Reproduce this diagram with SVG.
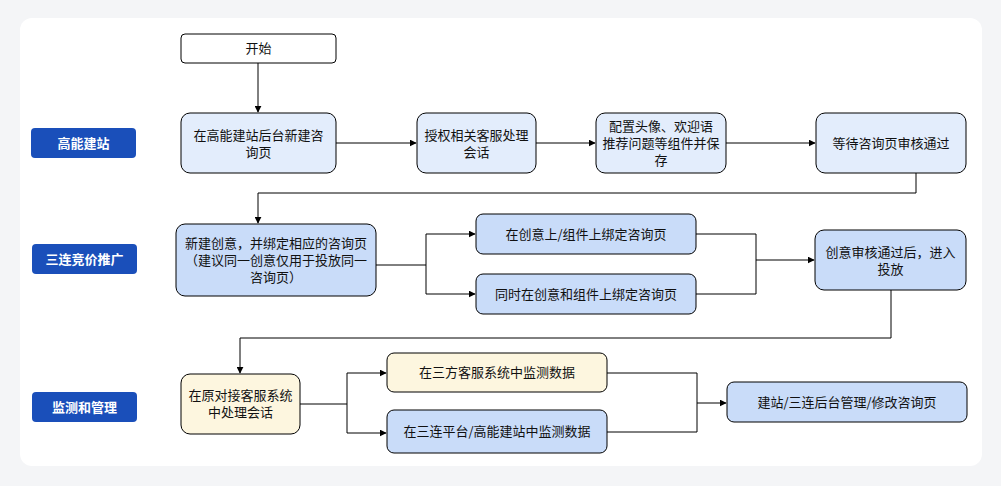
<svg xmlns="http://www.w3.org/2000/svg" width="1001" height="486" viewBox="0 0 1001 486">
<style>
.n{stroke:#000;stroke-width:1}
.t{font-family:"Noto Sans CJK SC","Liberation Sans",sans-serif;font-size:13px;fill:#111;text-anchor:middle}
.l{font-family:"Noto Sans CJK SC","Liberation Sans",sans-serif;font-size:13px;font-weight:bold;fill:#fff;text-anchor:middle}
.c{fill:none;stroke:#000;stroke-width:1}
</style>
<defs><marker id="a" viewBox="0 0 10 10" refX="9" refY="5" markerWidth="7" markerHeight="7" orient="auto"><path d="M0,0L10,5L0,10z" fill="#000"/></marker></defs>
<rect width="1001" height="486" fill="#f4f5f7"/>
<rect x="20" y="18" width="962" height="448" rx="12" fill="#fff"/>
<g id="lbl1"><rect x="31" y="128" width="105" height="30" rx="4" fill="#1a4fba"/><text class="l" x="83.5" y="148">高能建站</text></g>
<g id="lbl2"><rect x="32" y="244" width="105" height="30" rx="4" fill="#1a4fba"/><text class="l" x="84.5" y="264">三连竞价推广</text></g>
<g id="lbl3"><rect x="32" y="392" width="105" height="30" rx="4" fill="#1a4fba"/><text class="l" x="84.5" y="412">监测和管理</text></g>
<g id="start"><rect class="n" x="181" y="34" width="155" height="29" rx="4" fill="#fff"/><text class="t" x="258.5" y="53">开始</text></g>
<g id="a1"><rect class="n" x="181" y="113" width="155" height="60" rx="9" fill="#e3edfc"/><text class="t" x="258.5" y="140">在高能建站后台新建咨</text><text class="t" x="258.5" y="157">询页</text></g>
<g id="a2"><rect class="n" x="417" y="113" width="119" height="60" rx="9" fill="#e3edfc"/><text class="t" x="476.5" y="140">授权相关客服处理</text><text class="t" x="476.5" y="157">会话</text></g>
<g id="a3"><rect class="n" x="596" y="113" width="130" height="60" rx="9" fill="#e3edfc"/><text class="t" x="661" y="131">配置头像、欢迎语</text><text class="t" x="661" y="148">推荐问题等组件并保</text><text class="t" x="661" y="165">存</text></g>
<g id="a4"><rect class="n" x="816" y="113" width="150" height="60" rx="9" fill="#e3edfc"/><text class="t" x="891" y="148">等待咨询页审核通过</text></g>
<g id="b1"><rect class="n" x="176" y="224" width="200" height="72" rx="9" fill="#c9dcf9"/><text class="t" x="276" y="248">新建创意，并绑定相应的咨询页</text><text class="t" x="276" y="265">（建议同一创意仅用于投放同一</text><text class="t" x="276" y="282">咨询页）</text></g>
<g id="b2"><rect class="n" x="476" y="214" width="220" height="40" rx="7" fill="#c9dcf9"/><text class="t" x="586" y="239">在创意上/组件上绑定咨询页</text></g>
<g id="b3"><rect class="n" x="476" y="274" width="220" height="40" rx="7" fill="#c9dcf9"/><text class="t" x="586" y="299">同时在创意和组件上绑定咨询页</text></g>
<g id="b4"><rect class="n" x="815" y="230" width="151" height="60" rx="9" fill="#c9dcf9"/><text class="t" x="890.5" y="257">创意审核通过后，进入</text><text class="t" x="890.5" y="274">投放</text></g>
<g id="c1"><rect class="n" x="181" y="374" width="119" height="60" rx="9" fill="#fdf6df"/><text class="t" x="240.5" y="400">在原对接客服系统</text><text class="t" x="240.5" y="417">中处理会话</text></g>
<g id="c2"><rect class="n" x="387" y="353" width="220" height="39" rx="7" fill="#fdf6df"/><text class="t" x="497" y="377">在三方客服系统中监测数据</text></g>
<g id="c3"><rect class="n" x="387" y="410" width="220" height="43" rx="7" fill="#c9dcf9"/><text class="t" x="497" y="436">在三连平台/高能建站中监测数据</text></g>
<g id="c4"><rect class="n" x="727" y="382" width="240" height="40" rx="7" fill="#c9dcf9"/><text class="t" x="847" y="407">建站/三连后台管理/修改咨询页</text></g>
<g id="connectors">
<path class="c" d="M258,63V112" marker-end="url(#a)"/>
<path class="c" d="M336,143H416" marker-end="url(#a)"/>
<path class="c" d="M536,143H595" marker-end="url(#a)"/>
<path class="c" d="M726,143H815" marker-end="url(#a)"/>
<path class="c" d="M916,173V193H258V223" marker-end="url(#a)"/>
<path class="c" d="M376,265H426V234H475" marker-end="url(#a)"/>
<path class="c" d="M426,265V294H475" marker-end="url(#a)"/>
<path class="c" d="M696,234H756V294H696"/>
<path class="c" d="M756,260H814" marker-end="url(#a)"/>
<path class="c" d="M891,290V338H240V373" marker-end="url(#a)"/>
<path class="c" d="M300,404H347V373H386" marker-end="url(#a)"/>
<path class="c" d="M347,404V433H386" marker-end="url(#a)"/>
<path class="c" d="M607,373H697V432H607"/>
<path class="c" d="M697,403H726" marker-end="url(#a)"/>
</g>
</svg>
